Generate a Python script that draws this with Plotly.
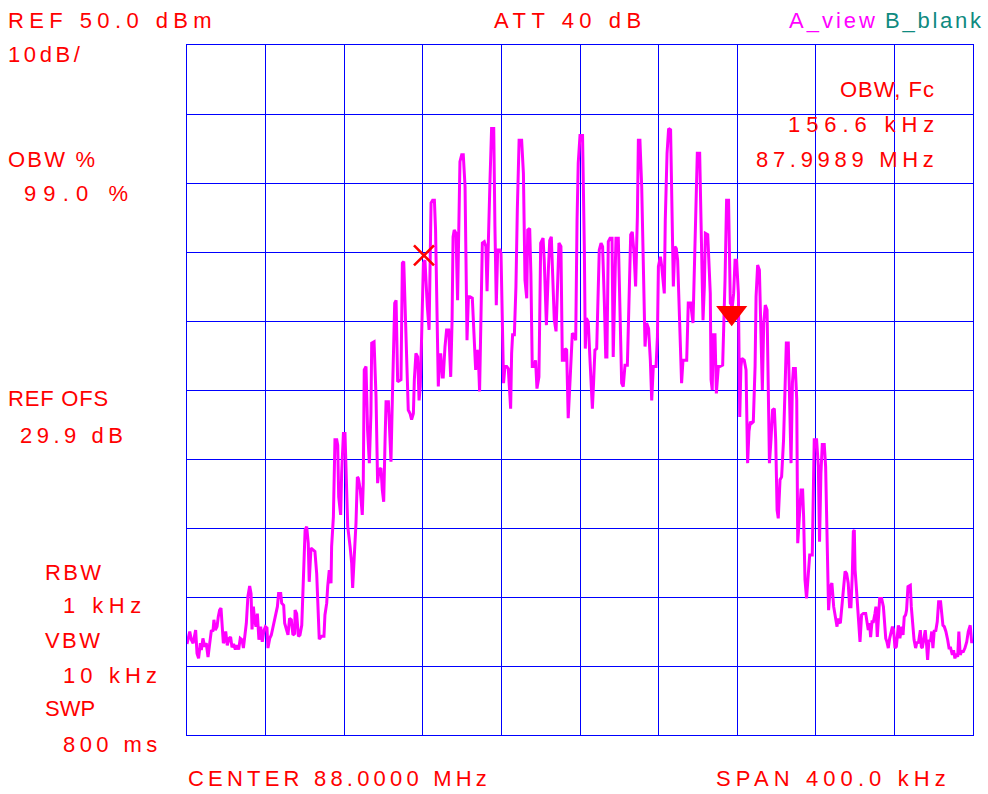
import plotly.graph_objects as go

# ---------------- data ----------------
center_mhz = 88.0
span_khz = 400.0
ref_level_dbm = 50.0
db_per_div = 10.0
obw_khz = 156.6
obw_center_mhz = 87.9989

freq_khz = [
    -200.0, -198.6, -197.8, -196.9, -195.6, -194.9, -194.1, -193.2, -192.7, -191.9,
    -191.0, -190.2, -189.3, -188.5, -187.6, -186.8, -186.3, -185.6, -184.7, -184.1,
    -183.4, -182.7, -182.2, -181.5, -180.8, -180.3, -179.5, -178.6, -177.8, -177.1,
    -176.3, -175.4, -174.6, -173.7, -172.9, -172.0, -171.3, -170.7, -169.8, -169.0,
    -168.1, -167.4, -166.9, -166.2, -165.7, -164.9, -164.2, -163.4, -162.5, -161.7,
    -160.8, -160.1, -159.3, -158.8, -157.9, -157.1, -156.2, -155.1, -154.0, -153.4,
    -152.3, -151.8, -150.8, -150.3, -149.5, -148.6, -147.8, -146.9, -146.1, -145.2,
    -145.0, -144.2, -143.3, -142.5, -141.6, -140.8, -139.9, -139.1, -138.3, -137.8,
    -136.9, -135.7, -134.9, -134.0, -133.2, -132.7, -131.5, -130.3, -129.8, -128.9,
    -128.4, -127.6, -126.7, -126.4, -125.5, -125.0, -124.7, -123.8, -123.3, -122.8,
    -121.8, -121.3, -120.4, -119.6, -118.7, -118.2, -117.0, -116.2, -115.7, -114.8,
    -114.0, -113.3, -112.8, -111.8, -110.8, -110.3, -109.8, -108.9, -108.1, -107.2,
    -106.4, -106.0, -104.8, -103.8, -103.0, -102.3, -101.3, -100.6, -99.9, -99.2,
    -98.7, -97.5, -96.7, -96.2, -95.5, -94.3, -93.6, -92.8, -91.1, -90.4, -89.7,
    -87.4, -86.5, -85.7, -84.8, -84.3, -83.5, -82.6, -81.9, -81.3, -80.6,
    -79.7, -78.9, -78.4, -77.7, -76.8, -76.3, -75.8, -75.0, -74.1, -73.5,
    -72.8, -72.1, -71.6, -70.9, -70.1, -69.6, -68.7, -67.9, -66.8, -66.3,
    -65.8, -65.1, -64.6, -64.0, -63.1, -62.3, -61.6, -61.1, -60.2, -59.4,
    -58.5, -58.0, -57.5, -56.8, -56.0, -54.8, -54.3, -53.8, -53.1, -52.4,
    -51.8, -51.1, -50.4, -49.7, -48.7, -47.9, -47.3, -46.7, -45.8, -45.0,
    -43.9, -43.3, -42.6, -41.9, -40.7, -40.2, -39.5, -38.9, -38.2, -37.3,
    -36.5, -36.0, -35.3, -34.8, -34.3, -33.4,
    -32.6, -31.9, -31.0, -29.7, -28.8, -28.0, -27.1, -26.6, -25.6, -25.0,
    -24.3, -23.4, -22.6, -21.9, -20.9, -20.0, -18.8, -18.2, -17.1, -16.1,
    -15.4, -14.6, -13.7, -13.1, -12.2, -11.4, -10.7, -9.7, -9.0, -8.0,
    -7.6, -6.8, -6.3, -6.0, -5.3, -4.6, -3.9, -2.9, -2.2, -1.5,
    -0.9, 0.0, 1.3, 2.2, 2.7, 3.2, 4.2, 5.1, 5.8, 6.3,
    6.9, 7.6, 8.5, 9.3, 9.8, 10.7, 11.5, 12.4, 13.1, 13.7,
    14.4, 15.3, 16.3, 16.9, 17.8, 18.3, 19.5, 20.5, 21.2, 22.0,
    22.9, 24.1, 24.9, 25.8, 26.6,
    27.5, 28.3, 29.2, 29.7, 30.5, 31.4, 32.2, 33.1, 33.9, 34.9,
    35.8, 36.5, 37.3, 38.7, 39.4, 39.9, 40.9, 41.6, 42.9, 43.4,
    44.3, 45.1, 46.1, 46.6, 47.5, 48.3, 49.0, 49.7, 50.4, 51.1,
    51.7, 52.4, 53.4, 54.3, 55.1, 56.3, 57.5, 58.2, 58.9, 59.7,
    60.9, 61.6, 62.6, 63.3, 63.8, 65.0, 65.6, 66.3, 66.7, 67.3,
    67.8, 68.7, 69.4, 70.4, 71.2, 72.6, 73.8, 74.6, 75.6, 76.5,
    77.5, 78.2, 78.9, 79.7, 80.6,
    81.3, 81.9, 82.4, 83.6, 84.5, 85.3, 86.0, 86.7, 87.4, 88.2,
    89.1, 89.6, 90.4, 91.3, 91.9, 92.8, 93.5, 94.3, 95.2, 95.8,
    96.4, 97.2, 98.0, 98.9, 99.6, 100.3, 100.9, 101.8, 102.6, 103.6,
    104.3, 105.0, 106.0, 106.5, 107.4, 108.1, 108.6, 109.6, 110.3, 110.8,
    111.4, 112.5, 113.3, 113.8, 114.5, 115.3, 116.2, 116.9, 118.2, 119.2,
    120.4, 121.3, 121.9, 122.6, 123.3, 124.3, 125.0, 125.7, 126.5, 127.4,
    128.2, 129.1, 129.9, 130.8, 131.3, 131.8, 132.5, 133.3, 134.2, 134.9,
    135.7, 136.5, 137.2, 137.9, 138.6, 139.1, 139.6,
    140.0, 140.6, 141.3, 142.0, 142.5, 143.3, 144.2, 145.4, 146.1, 146.7,
    147.4, 147.9, 148.6, 149.3, 150.1, 150.6, 151.3, 152.0, 152.5, 153.5,
    154.4, 154.9, 155.6, 156.2, 156.9, 157.6, 158.3, 159.0, 159.6, 160.3,
    161.0, 161.5, 162.0, 162.8, 163.7, 164.4, 165.0, 165.7, 166.2, 166.9,
    168.1, 168.6, 169.3, 170.0, 170.8, 171.5, 172.2, 173.2, 173.7, 174.2,
    174.9, 175.7, 176.4, 176.9, 177.6, 178.3, 179.0, 179.6, 180.3, 181.0,
    181.8, 182.5, 183.5, 184.0, 184.7, 185.4, 186.2, 187.1, 187.8, 188.6,
    189.5, 190.1, 190.8, 191.5, 192.2, 192.8, 193.5, 194.2, 195.1, 195.9,
    196.8, 197.6, 198.6, 199.3, 200.0,
]

level_dbm = [
    -36.8, -35.0, -36.2, -36.7, -34.8, -38.2, -38.9, -36.7, -37.7, -36.0,
    -37.2, -36.7, -38.7, -37.2, -34.8, -35.0, -33.3, -34.8, -34.3, -32.9,
    -31.9, -31.6, -33.8, -36.7, -36.2, -35.0, -37.0, -36.0, -35.8, -37.3,
    -36.8, -37.6, -37.0, -37.6, -36.0, -36.2, -37.4, -36.2, -33.8, -29.9,
    -28.4, -29.5, -34.7, -31.4, -33.1, -34.3, -32.4, -36.2, -34.3, -36.5,
    -34.8, -34.3, -34.5, -37.4, -36.0, -35.5, -34.3, -33.3, -31.4, -29.5,
    -29.5, -30.9, -31.2, -33.8, -34.8, -35.5, -33.1, -33.3, -35.5, -35.3,
    -31.9, -32.4, -35.7, -35.5, -34.1, -27.5, -20.3, -19.8, -22.2, -27.8,
    -22.9, -23.2, -23.4, -26.6, -32.4, -36.1, -35.7, -35.7, -32.6, -30.9,
    -28.5, -26.1, -28.0, -22.7, -18.4, -11.6, -7.2, -7.2, -8.0, -15.5,
    -18.1, -12.1, -6.3, -6.3, -14.0, -19.8, -22.7, -25.1, -28.7, -24.6,
    -19.3, -12.6, -12.8, -14.5, -18.1, -13.5, 2.9, 3.4, -5.8, -10.6,
    -3.4, 6.8, 7.0, -1.0, -13.5, -11.6, -11.3, -14.5, -16.2, -7.2,
    -1.7, -1.7, -6.3, -10.4, -1.4, 12.6, 13.0, 1.2, 1.5, 18.4, 18.6,
    -2.9, -3.4, -4.3, -3.4, 1.5, 5.3, 4.8, -1.5, 0.5, 7.7,
    18.4, 18.8, 15.0, 12.1, 8.7, 16.9, 27.1, 27.5, 27.5, 23.2,
    9.2, 0.5, 4.3, 5.3, 1.9, 1.9, 6.3, 8.7, 8.7, 5.3,
    1.9, 10.1, 22.2, 23.2, 22.7, 13.0, 23.2, 33.1, 34.1, 34.1,
    29.5, 18.4, 7.2, 13.5, 13.5, 13.3, 10.2, 5.8, 2.9, 5.8,
    5.3, -0.2, 10.2, 21.3, 21.5, 20.8, 14.3, 22.7, 30.4, 37.9,
    37.9, 23.7, 12.3, 20.3, 20.3, 19.8, 10.2, 1.0, 3.4, 3.4,
    3.1, 1.0, -2.7, 5.3, 8.0, 8.0,
    15.0, 26.1, 36.2, 36.2, 31.4, 15.9, 13.3, 23.2, 23.4, 16.9,
    3.4, 3.4, 4.3, 0.2, 1.9, 21.3, 22.0, 18.8, 9.4, 17.4,
    21.7, 22.2, 15.0, 10.2, 8.5, 17.4, 21.3, 20.8, 4.3, 4.3,
    6.0, 5.8, -1.4, -4.1, 0.0, 5.3, 8.2, 8.0, 7.2, 24.6,
    32.9, 36.9, 36.9, 20.8, 6.0, 10.4, 9.9, 4.3, -1.0, -2.7,
    1.0, 5.8, 6.0, 13.0, 20.3, 21.3, 20.8, 12.6, 4.8, 4.8,
    21.5, 22.0, 22.0, 4.8, 15.0, 22.0, 22.0, 11.1, 1.0, 0.5,
    3.6, 3.6, 15.0, 22.5, 22.9,
    19.8, 15.0, 25.1, 36.2, 36.2, 29.5, 16.4, 6.3, 9.7, 8.9,
    4.3, -1.5, 3.4, 3.4, 7.7, 17.9, 19.3, 17.9, 14.0, 24.6,
    34.3, 37.9, 37.7, 29.5, 15.0, 20.8, 20.5, 18.8, 12.6, 5.3,
    1.0, 4.3, 4.3, 4.3, 12.6, 12.6, 9.7, 18.8, 26.1, 34.3,
    34.3, 23.7, 10.1, 15.0, 22.7, 22.5, 19.3, 14.0, 1.5, 0.0,
    8.0, 8.0, -0.5, 3.4, 3.4, 3.6, 15.9, 27.5, 27.5, 12.6,
    12.1, 14.0, 18.8, 18.8, 14.0,
    -3.9, 3.4, 4.6, 4.3, 2.9, -10.6, -6.0, -4.6, -4.8, -4.6,
    3.4, 13.5, 18.1, 17.4, 9.7, 0.0, 9.7, 12.3, 11.6, 1.4,
    -10.6, -7.2, -2.9, -2.7, -7.2, -17.4, -18.6, -13.0, -12.6, -7.2,
    1.0, 6.8, 6.8, -1.4, -10.6, 1.0, 3.1, 3.1, -1.4, -22.2,
    -19.3, -14.5, -14.5, -18.4, -27.5, -30.2, -26.6, -23.9, -23.9, -7.2,
    -7.2, -11.1, -22.0, -12.1, -7.9, -7.9, -11.1, -20.8, -31.9, -28.5,
    -28.0, -31.4, -33.1, -34.3, -33.1, -33.6, -33.8, -31.4, -28.5, -26.3,
    -26.6, -28.0, -31.4, -31.4, -26.6, -20.5, -20.3,
    -26.1, -28.5, -31.4, -34.8, -36.5, -32.6, -32.4, -32.4, -34.1, -34.8,
    -33.8, -35.8, -33.6, -33.6, -32.4, -31.4, -35.8, -31.9, -30.2, -30.2,
    -31.4, -33.3, -36.0, -36.5, -37.4, -36.0, -35.0, -34.3, -34.8, -37.4,
    -37.2, -35.8, -34.1, -36.0, -34.3, -35.5, -32.9, -32.6, -31.9, -28.5,
    -28.3, -31.4, -34.3, -36.2, -37.4, -36.5, -36.7, -34.8, -37.2, -37.4,
    -36.2, -34.8, -37.0, -39.1, -36.2, -36.5, -35.0, -37.4, -34.8, -35.0,
    -33.6, -30.7, -30.7, -31.9, -34.1, -34.3, -35.0, -36.2, -37.4, -37.4,
    -38.4, -37.7, -38.9, -38.2, -38.7, -35.0, -38.4, -37.9, -37.9, -37.4,
    -36.5, -35.0, -34.1, -36.5, -36.5,
]

# marker readings (OBW edges)
marker_x_level_dbm = 19.5
marker_tri_level_dbm = 11.2

assert len(freq_khz) == len(level_dbm)

# ---------------- figure ----------------
W, H = 988, 794
L, R, T, B = 187, 15, 45, 59
PW, PH = W - L - R, H - T - B

RED = "#FF0000"
MAG = "#FF00FF"
BLUE = "#0000FF"
TEAL = "#0F8A80"
FONT = "Liberation Sans, Arial, sans-serif"

obw_center_khz = (obw_center_mhz - center_mhz) * 1000.0
obw_low = obw_center_khz - obw_khz / 2
obw_high = obw_center_khz + obw_khz / 2

fig = go.Figure()
fig.add_trace(go.Scatter(
    x=freq_khz, y=level_dbm, mode="lines",
    line=dict(color=MAG, width=3), hoverinfo="skip", showlegend=False,
))
fig.add_trace(go.Scatter(
    x=[obw_low], y=[marker_x_level_dbm], mode="markers",
    marker=dict(symbol="x-thin", size=20, line=dict(color=RED, width=2.6)),
    showlegend=False, hoverinfo="skip",
))
fig.add_trace(go.Scatter(
    x=[obw_high], y=[marker_tri_level_dbm], mode="markers",
    marker=dict(symbol="triangle-down", size=27, color=RED, line=dict(width=0)),
    showlegend=False, hoverinfo="skip",
))

half_span = span_khz / 2
bottom = ref_level_dbm - 10 * db_per_div
axis_common = dict(
    showgrid=True, gridcolor=BLUE, gridwidth=1, zeroline=False,
    showticklabels=False, ticks="", showline=True, linecolor=BLUE,
    linewidth=1, mirror=True, fixedrange=True,
)
fig.update_xaxes(range=[-half_span, half_span], tick0=-half_span,
                 dtick=span_khz / 10, **axis_common)
fig.update_yaxes(range=[bottom, ref_level_dbm], tick0=bottom,
                 dtick=db_per_div, **axis_common)


def label(text, px, py, spacing=0.0, anchor="left", color=RED, size=22):
    x = (px - L) / PW
    y = (H - B - py) / PH
    fig.add_annotation(
        text=f'<span style="letter-spacing:{spacing}px">{text}</span>',
        xref="paper", yref="paper", x=x, y=y,
        xanchor=anchor, yanchor="middle", align=anchor,
        showarrow=False, borderpad=0,
        font=dict(family=FONT, size=size, color=color),
    )


label("REF 50.0 dBm", 7, 20, 5.4)
label("10dB/", 7, 55, 3.6)
label("ATT 40 dB", 493, 20, 5.5)
label("A_view", 788, 20, 3.0, color=MAG)
label("B_blank", 884, 20, 2.75, color=TEAL)
label("OBW, Fc", 936, 90, 1.0, anchor="right")
label("156.6 kHz", 941, 125, 5.9, anchor="right")
label("87.9989 MHz", 940, 159, 4.7, anchor="right")
label("OBW %", 7, 159, 2.2)
label("99.0 %", 23, 193, 7.1)
label("REF OFS", 7, 399, 0.8)
label("29.9 dB", 19, 435, 4.5)
label("RBW", 44, 572, 2.3)
label("1 kHz", 62, 605, 5.5)
label("VBW", 44, 640, 2.4)
label("10 kHz", 62, 675, 5.1)
label("SWP", 44, 708, 0.0)
label("800 ms", 62, 744, 4.4)
label("CENTER 88.0000 MHz", 187, 778, 4.2)
label("SPAN 400.0 kHz", 715, 778, 5.1)

fig.update_layout(
    width=W, height=H,
    margin=dict(l=L, r=R, t=T, b=B, pad=0),
    paper_bgcolor="white", plot_bgcolor="white",
    showlegend=False,
    font=dict(family=FONT),
)

fig.write_html("out.html", config={"displayModeBar": False})
